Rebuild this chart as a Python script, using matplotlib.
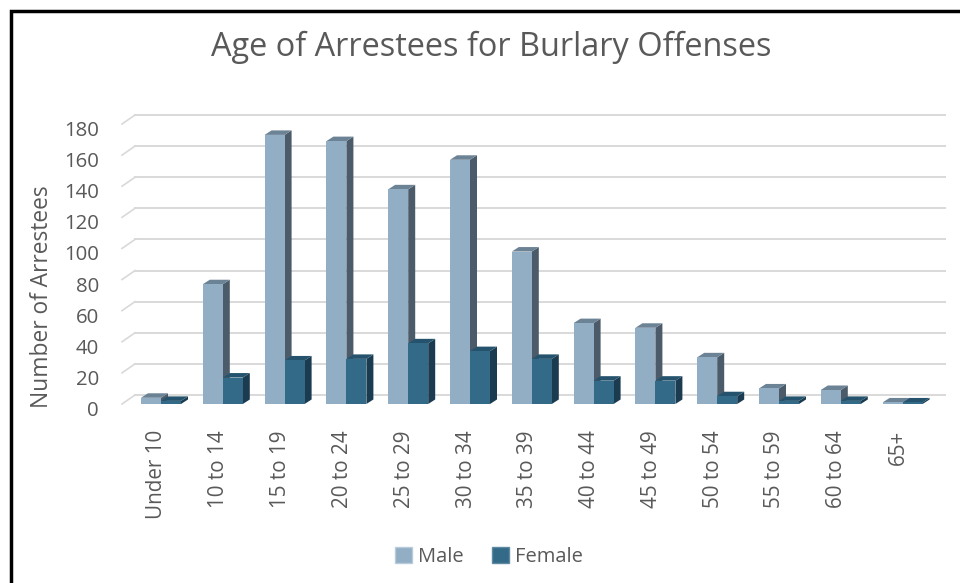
import matplotlib
matplotlib.use("Agg")
import matplotlib.pyplot as plt
from matplotlib.patches import Polygon, Patch, Rectangle
from matplotlib.lines import Line2D

plt.rcParams['font.family'] = ['Open Sans', 'DejaVu Sans']

categories = ["Under 10", "10 to 14", "15 to 19", "20 to 24", "25 to 29", "30 to 34",
              "35 to 39", "40 to 44", "45 to 49", "50 to 54", "55 to 59", "60 to 64", "65+"]
male = [4, 77, 173, 169, 138, 157, 98, 52, 49, 30, 10, 9, 1]
female = [2, 17, 28, 29, 39, 34, 29, 15, 15, 5, 2, 2, 1]
yticks = [0, 20, 40, 60, 80, 100, 120, 140, 160, 180]

W, H = 960, 583
fig = plt.figure(figsize=(W / 100, H / 100), dpi=100)
fig.patch.set_facecolor('white')

# geometry (pixels)
ax_left, ax_right = 122, 932
ax_bottom_px, ax_top_px = 404, 124  # from top
cat_px = 61.8
c0 = 161
ax = fig.add_axes([ax_left / W, 1 - ax_bottom_px / H,
                   (ax_right - ax_left) / W, (ax_bottom_px - ax_top_px) / H])
xl0 = (ax_left - c0) / cat_px
xl1 = xl0 + (ax_right - ax_left) / cat_px
ax.set_xlim(xl0, xl1)
ax.set_ylim(0, 180)
ax.axis('off')

ppx = cat_px               # px per x unit
ppy = (ax_bottom_px - ax_top_px) / 180.0  # px per y unit

# wall offset
wdx, wdy = 13 / ppx, 9 / ppy
grid_c = '#D9D9D9'
for v in yticks:
    ax.add_line(Line2D([xl0 + wdx, xl1 + wdx], [v + wdy, v + wdy], color=grid_c,
                       lw=1.4, zorder=1, clip_on=False))
    ax.add_line(Line2D([xl0, xl0 + wdx], [v, v + wdy], color=grid_c,
                       lw=1.2, zorder=1, clip_on=False))

# bars
bw = 20 / ppx
ddx, ddy = 7 / ppx, 4.5 / ppy
styles = {
    'm': ('#91AEC4', '#4C5B6A', '#6C8396'),
    'f': ('#336A88', '#1B3C50', '#25536D'),
}

def bar3d(xl, v, cols, z):
    front, side, top = cols
    ax.add_patch(Polygon([(xl + bw, 0), (xl + bw + ddx, ddy), (xl + bw + ddx, v + ddy), (xl + bw, v)],
                         closed=True, fc=side, ec='none', zorder=z, clip_on=False))
    ax.add_patch(Polygon([(xl, v), (xl + ddx, v + ddy), (xl + bw + ddx, v + ddy), (xl + bw, v)],
                         closed=True, fc=top, ec='none', zorder=z, clip_on=False))
    ax.bar([xl], [v], width=bw, align='edge', color=front, zorder=z + 0.5, clip_on=False)

for i in range(len(categories)):
    bar3d(i - bw, male[i], styles['m'], 2)
    bar3d(i, female[i], styles['f'], 4)

txt_c = '#595959'
renderer = fig.canvas.get_renderer()

def fit_w(t, target):
    w = t.get_window_extent(renderer).width
    t.set_fontsize(t.get_fontsize() * target / w)

def fit_h(t, target):
    h = t.get_window_extent(renderer).height
    t.set_fontsize(t.get_fontsize() * target / h)

# y tick labels
ylab_x = (99 - c0) / ppx
tl = []
for v in yticks:
    t = ax.text(ylab_x, v - 7 / ppy, str(v), ha='right', va='center', color=txt_c,
                fontsize=14, clip_on=False)
    tl.append(t)
fit_w(tl[-1], 35)
for t in tl:
    t.set_fontsize(tl[-1].get_fontsize())

# x tick labels
xt = []
for i, c in enumerate(categories):
    t = fig.text((c0 + i * cat_px - 4) / W, 1 - 430 / H, c, rotation=90, ha='center', va='top',
                 color=txt_c, fontsize=14)
    xt.append(t)
fit_h(xt[0], 90)
for t in xt:
    t.set_fontsize(xt[0].get_fontsize())

# title
tt = fig.text(491 / W, 1 - 47 / H, "Age of Arrestees for Burlary Offenses", ha='center', va='center',
              color=txt_c, fontsize=20)
fit_w(tt, 562)

# y axis title
yt = fig.text(42 / W, 1 - 296.5 / H, "Number of Arrestees", rotation=90, ha='center', va='center',
              color=txt_c, fontsize=15)
fit_h(yt, 223)

# legend
handles = [Patch(facecolor=styles['m'][0], edgecolor='#B8CCDB', label='Male'),
           Patch(facecolor=styles['f'][0], edgecolor='#5F8AA2', label='Female')]
leg = fig.legend(handles=handles, loc='center', bbox_to_anchor=(489 / W, 1 - 557 / H), ncol=2,
                 frameon=False, fontsize=14.5, handlelength=0.85, handleheight=0.85,
                 handletextpad=0.3, columnspacing=1.4, labelcolor=txt_c)

# border (left and top visible)
fig.add_artist(Rectangle((10.5 / W, -0.1), 1.2, 1 - 10.5 / H + 0.1, transform=fig.transFigure,
                         fill=False, ec='black', lw=2.5))

fig.savefig('out.png', dpi=100)
